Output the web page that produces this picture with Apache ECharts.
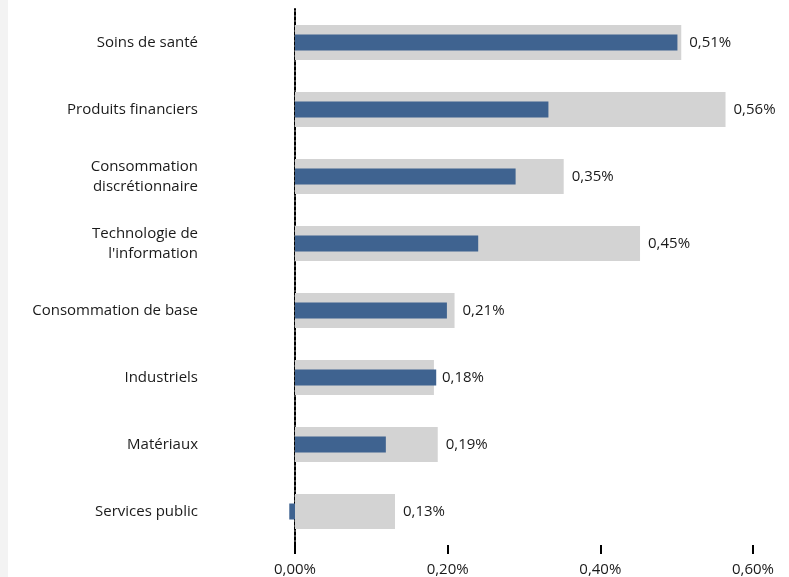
<!DOCTYPE html>
<html><head><meta charset="utf-8">
<script src="https://cdn.jsdelivr.net/npm/echarts@6/dist/echarts.min.js"></script>
<style>html,body{margin:0;padding:0;background:#fff}#c{width:789px;height:577px}</style>
</head><body><div id="c"></div>
<script>
const categories = ["Soins de santé","Produits financiers","Consommation\ndiscrétionnaire","Technologie de\nl'information","Consommation de base","Industriels","Matériaux","Services public"];
const greyValues = [0.506, 0.564, 0.352, 0.452, 0.209, 0.182, 0.187, 0.131];
const blueValues = [0.501, 0.332, 0.289, 0.240, 0.199, 0.185, 0.119, -0.0075];
const tickLabels = ["0,00%","0,20%","0,40%","0,60%"];
const FONT = "Open Sans";
const cats = categories.slice().reverse();
const chart = echarts.init(document.getElementById('c'));
chart.setOption({
  animation:false,
  graphic:[{type:'rect',left:0,top:0,shape:{width:8,height:577},style:{fill:'#f3f3f3'}}],
  grid:{left:295,right:36,top:9,bottom:31,containLabel:false},
  xAxis:{type:'value',min:0,max:0.6,interval:0.2,
    axisLine:{show:false},
    splitLine:{show:false},
    axisTick:{show:true,length:9,lineStyle:{color:'#000',width:2}},
    axisLabel:{margin:17,fontFamily:FONT,fontSize:15,color:'#1a1a1a',
      formatter:(v)=>tickLabels[Math.round(v/0.2)]}},
  yAxis:[{type:'category',data:cats,
    axisLine:{show:true,onZero:true,lineStyle:{color:'#000',width:2,type:[3,2]}},
    axisTick:{show:false},
    axisLabel:{margin:97,fontFamily:FONT,fontSize:15,color:'#1a1a1a',lineHeight:20,align:'right'}},
    {type:'category',data:cats,show:false}],
  series:[
    {type:'bar',data:greyValues.slice().reverse(),barWidth:35,yAxisIndex:0,
     itemStyle:{color:'#d3d3d3'},
     label:{show:true,position:'right',distance:8,fontFamily:FONT,fontSize:15,color:'#1a1a1a',
       formatter:(p)=>p.value.toFixed(2).replace('.',',')+'%'}},
    {type:'bar',data:blueValues.slice().reverse(),barWidth:16,yAxisIndex:1,z:3,clip:false,
     itemStyle:{color:'#3f6390'}}
  ]
});
</script></body></html>
